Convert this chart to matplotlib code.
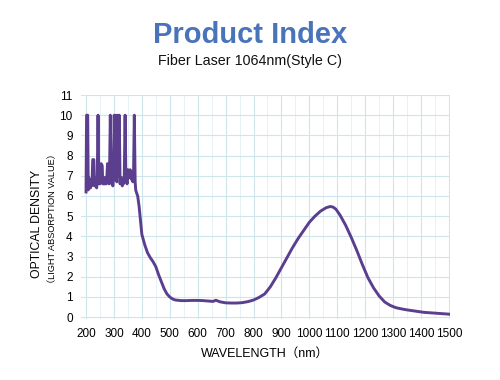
import numpy as np
import matplotlib.pyplot as plt
from matplotlib.ticker import MultipleLocator

# absorption spectrum (nm, OD)
wavelength = [200, 202, 206, 208, 210, 212, 214, 216, 218, 220, 222, 224, 228, 230, 232,
              234, 236, 238, 240, 243, 246, 248, 250, 252, 254, 258, 260, 262, 264, 266,
              268, 270, 272, 274, 277, 280, 282, 284, 287, 290, 292, 294, 296, 298,
              301, 304, 307, 310, 313, 316, 319, 322, 324, 326, 328, 330, 332, 334, 337,
              340, 343, 345, 347, 350, 352, 354, 356, 358, 360, 362, 364, 366, 368, 370,
              373, 376, 378, 380,
              385, 390, 395, 400, 410, 420, 430, 440, 450, 460, 470, 480, 490, 500,
              510, 520, 540, 560, 580, 600, 620, 640, 655, 665, 680, 700, 720, 740,
              760, 780, 800, 820, 840, 860, 880, 900, 920, 940, 960, 980, 1000, 1020,
              1040, 1060, 1075, 1085, 1095, 1110, 1130, 1150, 1170, 1190, 1210, 1230,
              1250, 1270, 1290, 1310, 1330, 1350, 1370, 1390, 1410, 1430, 1450, 1470,
              1490, 1500]
density = [6.2, 10, 10, 6.3, 6.9, 6.4, 6.8, 6.4, 6.7, 6.5, 6.9, 7.8, 7.8, 6.5, 6.9,
           6.5, 6.8, 6.4, 6.7, 10, 6.6, 6.9, 6.6, 7.0, 7.6, 7.5, 6.6, 6.9, 6.6, 6.9,
           6.6, 6.9, 6.6, 6.8, 7.6, 7.0, 6.6, 6.9, 10, 6.9, 6.6, 6.8, 6.5, 6.8,
           10, 6.8, 10, 6.7, 10, 7.0, 10, 6.6, 6.9, 6.6, 6.9, 6.5, 6.8, 6.6, 7.0,
           10, 6.7, 6.9, 6.6, 7.3, 6.9, 7.2, 6.9, 7.3, 6.9, 7.2, 6.8, 7.0, 6.7, 6.9,
           10, 6.7, 6.3, 6.2,
           6.0, 5.5, 4.8, 4.1, 3.6, 3.2, 2.95, 2.75, 2.5, 2.1, 1.75, 1.4, 1.15, 1.0,
           0.9, 0.85, 0.82, 0.82, 0.83, 0.83, 0.82, 0.80, 0.78, 0.84, 0.76, 0.71, 0.70, 0.70,
           0.72, 0.77, 0.85, 0.98, 1.15, 1.5, 1.95, 2.45, 2.95, 3.45, 3.9, 4.3, 4.7, 5.0,
           5.25, 5.42, 5.48, 5.45, 5.35, 5.05, 4.55, 3.95, 3.3, 2.6, 1.95, 1.45,
           1.05, 0.75, 0.58, 0.47, 0.41, 0.36, 0.32, 0.28, 0.24, 0.22, 0.2, 0.18,
           0.16, 0.15]

plt.rcParams['font.family'] = ['Liberation Sans', 'Noto Sans CJK SC', 'DejaVu Sans']

fig = plt.figure(figsize=(5, 3.8), dpi=100)
ax = fig.add_axes([0.162, 0.16, 0.737, 0.59])

ax.plot(wavelength, density, color='#5b3f8e', linewidth=2.1)

ax.set_xlim(182, 1502)
ax.set_ylim(-0.1, 11)
ax.xaxis.set_minor_locator(MultipleLocator(50))
ax.yaxis.set_major_locator(MultipleLocator(1))
ax.set_xticks(range(200, 1501, 100))
ax.grid(which='major', color='#cfe5ec', linewidth=0.8)
ax.grid(which='minor', axis='x', color='#e3f0f4', linewidth=0.6)
for s in ax.spines.values():
    s.set_visible(False)
ax.tick_params(which='both', length=0, labelsize=8.5, pad=6)

ax.set_xlabel('WAVELENGTH（nm）', fontsize=9, labelpad=6)

fig.text(0.074, 0.41, 'OPTICAL DENSITY', rotation=90, ha='center', va='center', fontsize=8.8)
fig.text(0.106, 0.425, '（LIGHT ABSORPTION VALUE）', rotation=90, ha='center', va='center',
         fontsize=6.6)

fig.text(0.5, 0.908, 'Product Index', ha='center', va='center', fontsize=21,
         fontweight='bold', color='#4a74ba')
fig.text(0.5, 0.84, 'Fiber Laser 1064nm(Style C)', ha='center', va='center', fontsize=10.3,
         color='#111111')

fig.savefig('out.png', dpi=100)
